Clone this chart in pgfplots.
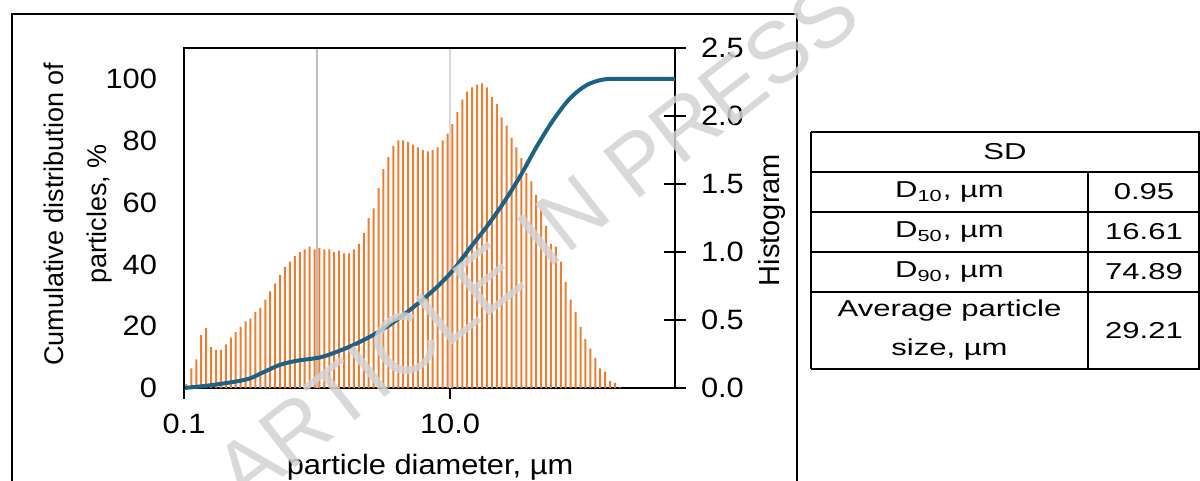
\documentclass[border=0pt]{standalone}
\usepackage{pgfplots}
\pgfplotsset{compat=1.18}
\usepackage{pgfplotstable}
\usepackage{fontspec}
\setmainfont{Liberation Sans}
\newfontfamily\hfont[FakeStretch=1.1]{Liberation Sans}
\newfontfamily\tablefont[FakeStretch=1.35]{Liberation Sans}
\definecolor{barorange}{HTML}{ED7D31}
\definecolor{curveblue}{HTML}{1B6284}
\definecolor{wmgray}{HTML}{D2D2D2}

% histogram: bin index i (27 bins per decade from 0.1 um), height
\pgfplotstableread{
i h
0 0.03
1 0.145
2 0.21
3 0.39
4 0.44
5 0.30
6 0.28
7 0.28
8 0.32
9 0.37
10 0.41
11 0.45
12 0.49
13 0.51
14 0.56
15 0.59
16 0.65
17 0.71
18 0.77
19 0.83
20 0.89
21 0.93
22 0.97
23 1.00
24 1.02
25 1.04
26 1.02
27 1.03
28 1.02
29 1.02
30 1.00
31 1.01
32 0.99
33 0.99
34 1.02
35 1.06
36 1.14
37 1.25
38 1.32
39 1.47
40 1.61
41 1.70
42 1.78
43 1.82
44 1.82
45 1.81
46 1.79
47 1.77
48 1.75
49 1.74
50 1.75
51 1.77
52 1.82
53 1.87
54 1.94
55 2.03
56 2.12
57 2.18
58 2.21
59 2.23
60 2.24
61 2.21
62 2.14
63 2.09
64 1.99
65 1.93
66 1.84
67 1.77
68 1.69
69 1.58
70 1.52
71 1.42
72 1.31
73 1.19
74 1.06
75 1.04
76 0.93
77 0.78
78 0.65
79 0.56
80 0.45
81 0.36
82 0.29
83 0.22
84 0.145
85 0.12
86 0.05
87 0.04
88 0.005
}\histdata

% cumulative distribution: diameter (um), percent
\pgfplotstableread{
d c
0.1 0
0.166 1.0
0.296 2.8
0.395 5.1
0.527 7.5
0.704 8.8
1.053 9.9
1.407 11.7
1.875 13.9
2.503 16.6
3.343 19.8
4.456 23.6
5.949 27.9
7.943 32.6
10.59 38.2
14.14 45.3
18.88 52.2
25.16 59.8
33.60 68.4
44.87 78.1
59.80 86.7
79.86 93.7
106.6 98.0
142.1 99.8
189.8 100
268.3 100
491.7 100
}\cumdata

\begin{document}
\begin{tikzpicture}
\useasboundingbox (0,0) rectangle (600pt,-240.5pt);
% outer frame
\draw[line width=1pt] (6pt,-250pt) -- (6pt,-7pt) -- (398.5pt,-7pt) -- (398.5pt,-250pt);

% histogram axis (right)
\begin{axis}[
  at={(92pt,-194pt)}, anchor=south west,
  scale only axis, width=245.5pt, height=170pt,
  xmode=log, xmin=0.1, xmax=491.7,
  ymin=0, ymax=2.5,
  axis lines=box,
  axis line style={line width=1pt, draw=black},
  xtick={0.1,10}, xticklabels={0.1,10.0},
  xtick pos=left,
  ytick={0,0.5,1,1.5,2,2.5}, yticklabels={0.0,0.5,1.0,1.5,2.0,2.5},
  ytick pos=right, yticklabel pos=right,
  tick align=center,
  major tick style={line width=0.9pt, black},
  major tick length=11pt,
  minor tick num=0,
  xticklabel style={font=\hfont\fontsize{14}{16}\selectfont, yshift=-4pt},
  yticklabel style={font=\hfont\fontsize{14}{16}\selectfont, anchor=west, xshift=4pt},
  clip=true,
]
\draw[color=gray!50, line width=1pt] (axis cs:1,0) -- (axis cs:1,2.5);
\draw[color=gray!30, line width=1pt] (axis cs:10,0) -- (axis cs:10,2.5);
\addplot[ybar, bar width=1pt, fill=barorange, draw=none, bar shift=0pt]
  table[x expr={0.1*10^((\thisrow{i}+0.5)/27)}, y=h] {\histdata};
\end{axis}

% cumulative axis (left)
\begin{axis}[
  at={(92pt,-194pt)}, anchor=south west,
  scale only axis, width=245.5pt, height=170pt,
  xmode=log, xmin=0.1, xmax=491.7,
  ymin=0, ymax=110,
  hide x axis,
  y axis line style={opacity=0},
  xtick=\empty,
  ytick={0,20,40,60,80,100}, yticklabels={0,20,40,60,80,100},
  ytick pos=left, yticklabel pos=left,
  major tick length=0pt,
  yticklabel style={font=\hfont\fontsize{14}{16}\selectfont, anchor=east, xshift=-10pt},
  clip=false,
]
\addplot[curveblue, line width=2pt, smooth, tension=0.55] table[x=d, y=c] {\cumdata};
\end{axis}
% plot-area frame (left and top edges)
\path[draw=black, line width=1.1pt] (92pt,-194.5pt) -- (92pt,-24pt) -- (338pt,-24pt);

% axis titles
\node[rotate=90, align=center, font=\fontsize{13.5}{21.5}\selectfont] at (39pt,-107pt) {Cumulative distribution of\\particles, \%};
\node[rotate=90, font=\fontsize{14.5}{16}\selectfont] at (386pt,-110pt) {Histogram};
\node[font=\hfont\fontsize{14}{16}\selectfont] at (215pt,-233.5pt) {particle diameter, µm};

% table
\begin{scope}[line width=0.75pt]
\draw (405.5pt,-66pt) -- (605pt,-66pt);
\draw (405.5pt,-86pt) -- (605pt,-86pt);
\draw (405.5pt,-106pt) -- (605pt,-106pt);
\draw (405.5pt,-126pt) -- (605pt,-126pt);
\draw (405.5pt,-146pt) -- (605pt,-146pt);
\draw (405.5pt,-184.5pt) -- (605pt,-184.5pt);
\draw (405.5pt,-66pt) -- (405.5pt,-184.5pt);
\draw (544pt,-86pt) -- (544pt,-184.5pt);
\draw (599.6pt,-66pt) -- (599.6pt,-184.5pt);
\end{scope}
\begin{scope}[every node/.style={font=\tablefont\fontsize{11.5}{13}\selectfont}]
\node at (502.5pt,-76pt) {SD};
\node at (474.75pt,-96pt) {D\textsubscript{10}, µm};
\node at (474.75pt,-116pt) {D\textsubscript{50}, µm};
\node at (474.75pt,-136pt) {D\textsubscript{90}, µm};
\node[align=center, font=\tablefont\fontsize{11.5}{19.5}\selectfont] at (474.75pt,-165.25pt) {Average particle\\size, µm};
\node at (572pt,-96pt) {0.95};
\node at (572pt,-116pt) {16.61};
\node at (572pt,-136pt) {74.89};
\node at (572pt,-165.25pt) {29.21};
\end{scope}

% watermark
\node[rotate=38, font=\fontsize{43}{43}\selectfont, text=wmgray, opacity=0.85] at (268pt,-121pt) {ARTICLE IN PRESS};
\end{tikzpicture}
\end{document}
